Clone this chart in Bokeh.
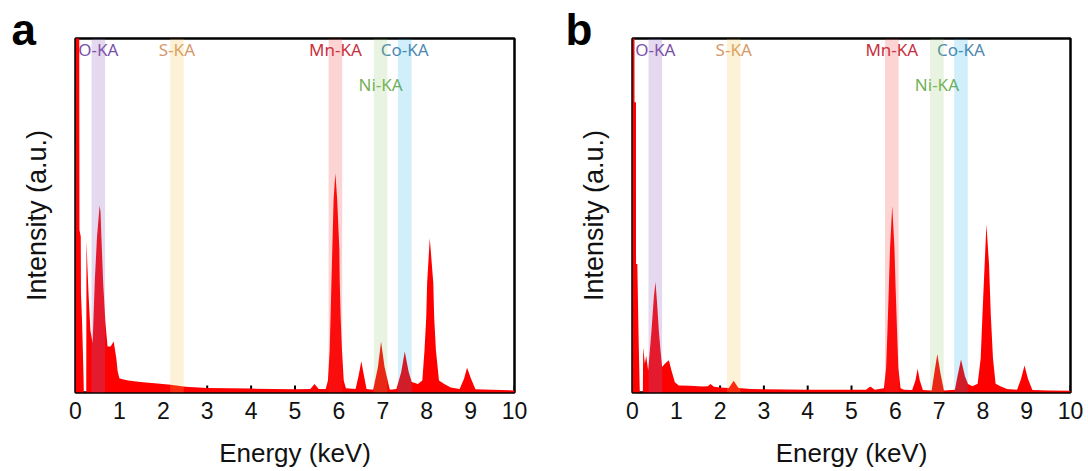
from bokeh.plotting import figure
from bokeh.models import Range1d, FixedTicker, ColumnDataSource, Title
from bokeh.layouts import row
from bokeh.core.properties import value
from bokeh.embed import file_html
from bokeh.resources import INLINE

# ---------------- data ----------------
# Panel a spectrum (energy keV, intensity % of axis height)
energy_a = [0.00, 0.005, 0.085, 0.09, 0.12, 0.125, 0.15, 0.18, 0.19, 0.245, 0.25, 0.27, 0.30, 0.34, 0.39,
            0.44, 0.49, 0.55, 0.57, 0.59, 0.63, 0.68, 0.73, 0.80, 0.87, 0.93, 0.96, 1.00, 1.05, 1.20,
            1.48, 1.80, 2.17, 2.50, 2.80, 3.00, 3.50, 4.00, 4.50, 5.00, 5.35, 5.445, 5.54, 5.70,
            5.75, 5.79, 5.81, 5.83, 5.85, 5.88, 5.92, 5.96, 6.01, 6.02, 6.04, 6.07, 6.11, 6.16,
            6.38, 6.45, 6.51, 6.57, 6.63, 6.78, 6.89, 6.96, 7.04, 7.16, 7.31, 7.42, 7.50, 7.59,
            7.66, 7.75, 7.80, 7.90, 7.95, 7.99, 8.01, 8.04, 8.07, 8.11, 8.15, 8.17, 8.21, 8.28,
            8.40, 8.55, 8.75, 8.85, 8.92, 9.01, 9.11, 9.50, 10.0]
intensity_a = [0, 110, 110, 46, 44, 28, 20, 6, 0, 0, 43, 36, 27, 17.5, 14,
               31.6, 44, 52.8, 51, 44, 31, 20, 13, 13, 14.4, 9.7, 6, 4, 3.8, 3.4,
               3.0, 2.6, 2.2, 1.6, 1.4, 1.3, 1.2, 1.1, 1.0, 0.9, 1.0, 2.4, 1.0, 1.0,
               3.4, 11.9, 21.3, 31, 40.6, 54.7, 61.9, 54.7, 40.6, 31, 21.3, 11.9, 3.4, 1.2,
               1.0, 4.8, 8.8, 4.8, 1.0, 0.8, 7.2, 14.4, 7.2, 0.8, 1.0, 5.8, 11.6, 5.8,
               3.0, 2.6, 2.4, 3.4, 11.9, 21.3, 31, 37.3, 43.6, 37.3, 31, 21.3, 11.9, 3.4,
               2.4, 1.4, 1.0, 3.9, 7.0, 3.9, 0.9, 0.8, 0.6]

# Panel b spectrum
energy_b = [0.00, 0.003, 0.045, 0.046, 0.08, 0.081, 0.11, 0.14, 0.167, 0.236, 0.244, 0.282, 0.312, 0.358,
            0.434, 0.487, 0.525, 0.563, 0.601, 0.639, 0.677, 0.738, 0.830, 0.890, 0.967, 1.058,
            1.30, 1.60, 1.72, 1.78, 1.86, 2.00, 2.20, 2.31, 2.42, 2.70, 3.00, 4.00, 5.00, 5.33,
            5.43, 5.53, 5.74, 5.79, 5.82, 5.85, 5.88, 5.93, 5.98, 6.01, 6.04, 6.07, 6.12, 6.20,
            6.385, 6.46, 6.51, 6.56, 6.63, 6.83, 6.89, 6.96, 7.03, 7.11, 7.36, 7.42, 7.50, 7.59,
            7.66, 7.76, 7.88, 7.95, 7.99, 8.04, 8.08, 8.14, 8.18, 8.23, 8.29, 8.40, 8.55, 8.78,
            8.87, 8.95, 9.03, 9.13, 9.50, 10.0]
intensity_b = [0, 110, 110, 82, 82, 36.3, 36.3, 15, 0, 0, 12.8, 8.1, 10.4, 6.2,
               17.5, 26.9, 31.2, 25.0, 17.5, 11.9, 7.2, 8.1, 9.1, 6.2, 2.9, 2.0,
               1.9, 1.7, 1.8, 2.4, 1.6, 1.4, 1.3, 3.3, 1.3, 1.0, 0.9, 0.8, 0.8, 0.8,
               1.7, 0.8, 1.2, 6.9, 17.3, 28.6, 40.9, 52.7, 40.9, 28.6, 17.3, 6.9, 1.2, 0.8,
               0.7, 3.4, 6.7, 3.4, 0.7, 0.6, 5.5, 10.9, 5.5, 0.6, 0.8, 4.6, 9.3, 4.6,
               2.4, 1.8, 2.5, 9.7, 22, 36.2, 47.5, 36.2, 22, 9.7, 2.5, 1.8, 1.0, 0.8,
               3.8, 7.6, 3.8, 0.7, 0.6, 0.5]

# Element lines (band centres, keV), label texts, label rows
line_names = ["O-KA", "S-KA", "Mn-KA", "Ni-KA", "Co-KA"]
line_energy = [0.52, 2.31, 5.92, 6.95, 7.50]
line_label_row = [0, 0, 0, 1, 0]
band_colors = ["#9467bd", "#f7c648", "#f03c3c", "#8cc66a", "#00a2e8"]
band_alphas = [0.25, 0.22, 0.22, 0.20, 0.18]
label_colors = ["#7a50a8", "#d4996a", "#c83040", "#74b055", "#5088b0"]

x_ticks = [0, 1, 2, 3, 4, 5, 6, 7, 8, 9, 10]
x_label = "Energy (keV)"
y_label = "Intensity (a.u.)"
panel_letters = ["a", "b"]

BAND_HALF = 0.155
ROW_Y = [96.9, 87.1]
TICK_LEN = 2.0  # inward tick length in data units of the 0-100 axis


def make_panel(energy, intensity, letter, width, left, right, letter_offset):
    p = figure(width=width, height=471, output_backend="svg", toolbar_location=None,
               x_range=Range1d(0, 10), y_range=Range1d(0, 100),
               min_border_left=left, min_border_right=right,
               min_border_top=38, min_border_bottom=79)
    p.grid.visible = False
    p.outline_line_color = "black"
    p.outline_line_width = 2.5
    p.background_fill_color = "white"
    p.border_fill_color = "white"

    # panel letter as a left-aligned title pulled over the frame's left margin
    t = Title(text=letter, align="left", offset=letter_offset, standoff=-31,
              text_font="Liberation Sans", text_font_size="44px", text_font_style="bold",
              text_color="black")
    p.add_layout(t, "above")

    # element labels (under the spectrum)
    ly = [ROW_Y[r] for r in line_label_row]
    src = ColumnDataSource(dict(x=line_energy, y=ly, t=line_names, c=label_colors))
    p.text(x="x", y="y", text="t", text_color="c", source=src,
           text_font=value("Noto Sans"), text_font_size="17px",
           text_align="center", text_baseline="middle")

    # inward tick marks (hidden under the spectrum like the original)
    p.segment(x0=x_ticks, y0=[0] * len(x_ticks), x1=x_ticks, y1=[TICK_LEN] * len(x_ticks),
              line_color="black", line_width=2)

    # spectrum
    p.varea(x=energy, y1=[0] * len(energy), y2=intensity, fill_color="#ff0000")

    # translucent bands on top
    p.quad(left=[e - BAND_HALF for e in line_energy], right=[e + BAND_HALF for e in line_energy],
           bottom=0, top=100, fill_color=band_colors, fill_alpha=band_alphas, line_color=None)

    xa = p.xaxis[0]
    xa.ticker = FixedTicker(ticks=x_ticks)
    xa.axis_line_color = None
    xa.major_tick_line_color = None
    xa.minor_tick_line_color = None
    xa.major_tick_in = 0
    xa.major_tick_out = 0
    xa.major_label_text_font = "Liberation Sans"
    xa.major_label_text_font_size = "23px"
    xa.major_label_text_color = "#111111"
    xa.major_label_standoff = 9
    xa.axis_label = x_label
    xa.axis_label_text_font = "Liberation Sans"
    xa.axis_label_text_font_size = "26px"
    xa.axis_label_text_font_style = "normal"
    xa.axis_label_text_color = "#111111"
    xa.axis_label_standoff = 16

    ya = p.yaxis[0]
    ya.ticker = FixedTicker(ticks=[])
    ya.axis_line_color = None
    ya.major_tick_line_color = None
    ya.minor_tick_line_color = None
    ya.major_label_text_font_size = "0px"
    ya.axis_label = y_label
    ya.axis_label_text_font = "Liberation Sans"
    ya.axis_label_text_font_size = "27px"
    ya.axis_label_text_font_style = "normal"
    ya.axis_label_text_color = "#111111"
    ya.axis_label_standoff = 24
    return p


pa = make_panel(energy_a, intensity_a, panel_letters[0], 548, 75, 34, -64)
pb = make_panel(energy_b, intensity_b, panel_letters[1], 540, 84, 18, -67)

layout = row(pa, pb)
open("out.html", "w").write(file_html(layout, INLINE))
